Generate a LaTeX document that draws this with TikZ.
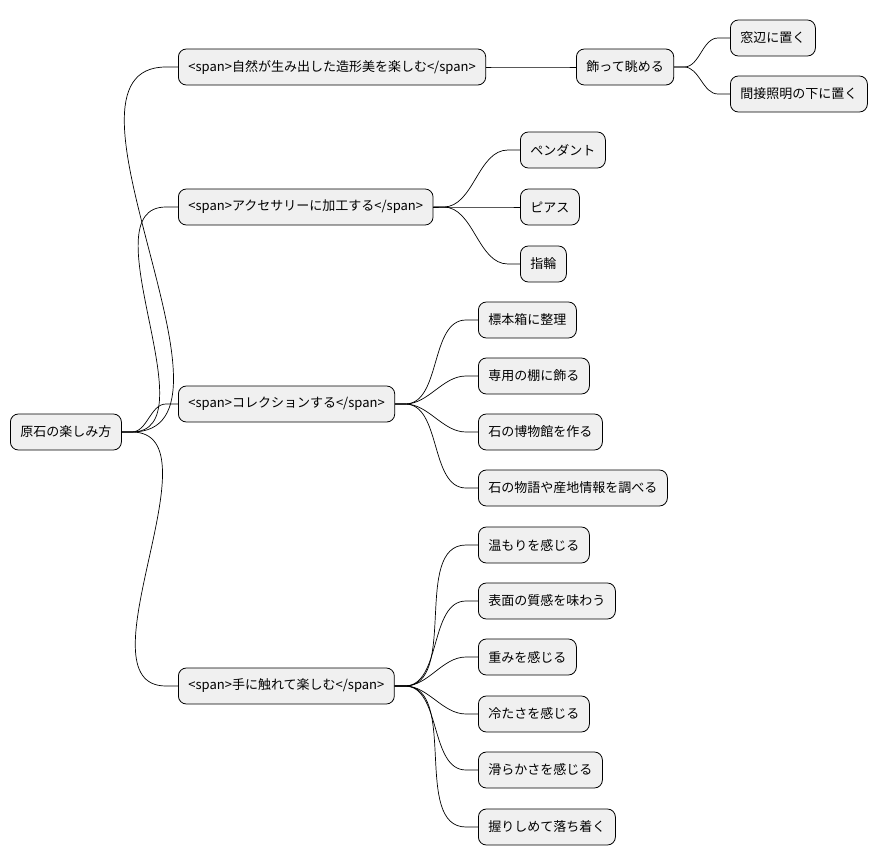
\documentclass[tikz,border=0pt]{standalone}
\usepackage{fontspec}
\setmainfont{Noto Sans CJK JP}
\usetikzlibrary{positioning,calc}
\tikzset{
	mapnode/.style={rectangle, rounded corners=8pt, draw=black, fill=black!6, line width=0.8pt, minimum height=36pt, inner xsep=10pt, anchor=west, font=\fontsize{13}{15}\selectfont},
	mapline/.style={draw=black, line width=0.7pt}
}
\newcommand{\maplink}[2]{\draw[mapline] (#1.east) -- ++(10,0) to[out=0,in=180,looseness=0.9] ($(#2.west)+(-12,0)$) -- (#2.west);}
\begin{document}
\begin{tikzpicture}[x=1pt,y=-1pt]
		\useasboundingbox (0,0) rectangle (887,865);
		\node[mapnode] at (10,432) (root)     {原石の楽しみ方};
		\node[mapnode] at (178,67) (shape)     {<span>自然が生み出した造形美を楽しむ</span>};
		\node[mapnode] at (178,207) (acc)     {<span>アクセサリーに加工する</span>};
		\node[mapnode] at (178,404) (coll)     {<span>コレクションする</span>};
		\node[mapnode] at (178,686) (touch)     {<span>手に触れて楽しむ</span>};
		\node[mapnode] at (576,67) (view)     {飾って眺める};
		\node[mapnode] at (730,38) (window)     {窓辺に置く};
		\node[mapnode] at (730,94) (light)     {間接照明の下に置く};
		\node[mapnode] at (520,150) (pendant)     {ペンダント};
		\node[mapnode] at (520,207) (pierce)     {ピアス};
		\node[mapnode] at (520,264) (ring)     {指輪};
		\node[mapnode] at (478,320) (box)     {標本箱に整理};
		\node[mapnode] at (478,376) (shelf)     {専用の棚に飾る};
		\node[mapnode] at (478,432) (museum)     {石の博物館を作る};
		\node[mapnode] at (478,488) (story)     {石の物語や産地情報を調べる};
		\node[mapnode] at (478,545) (warm)     {温もりを感じる};
		\node[mapnode] at (478,601) (surface)     {表面の質感を味わう};
		\node[mapnode] at (478,657) (weight)     {重みを感じる};
		\node[mapnode] at (478,714) (cold)     {冷たさを感じる};
		\node[mapnode] at (478,770) (smooth)     {滑らかさを感じる};
		\node[mapnode] at (478,827) (grip)     {握りしめて落ち着く};
		
		%Lines
		\maplink{root}{shape}
		\maplink{root}{acc}
		\maplink{root}{coll}
		\maplink{root}{touch}
		\maplink{shape}{view}
		\maplink{view}{window}
		\maplink{view}{light}
		\maplink{acc}{pendant}
		\maplink{acc}{pierce}
		\maplink{acc}{ring}
		\maplink{coll}{box}
		\maplink{coll}{shelf}
		\maplink{coll}{museum}
		\maplink{coll}{story}
		\maplink{touch}{warm}
		\maplink{touch}{surface}
		\maplink{touch}{weight}
		\maplink{touch}{cold}
		\maplink{touch}{smooth}
		\maplink{touch}{grip}
		
	\end{tikzpicture}
\end{document}
